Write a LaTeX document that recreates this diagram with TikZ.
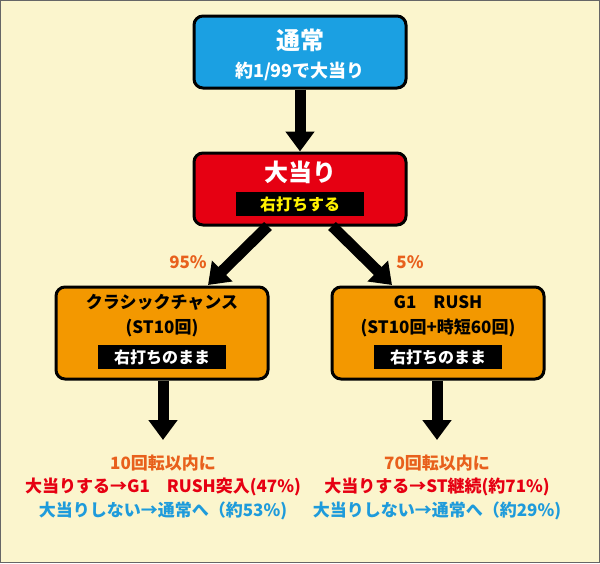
\documentclass[tikz,border=0pt]{standalone}
\usepackage{fontspec}
\setmainfont{Noto Sans CJK JP}
\usetikzlibrary{arrows.meta}
\definecolor{bg}{HTML}{FBF5CD}
\definecolor{cblue}{HTML}{1BA0E2}
\definecolor{cred}{HTML}{E60012}
\definecolor{corange}{HTML}{F39800}
\definecolor{tor}{HTML}{E8601C}
\definecolor{tred}{HTML}{E60012}
\definecolor{tblue}{HTML}{1E9BDB}
\definecolor{tyel}{HTML}{FFF100}
\begin{document}
\begin{tikzpicture}[x=1pt,y=-1pt,font=\bfseries,
 box/.style={draw=black,line width=3pt,rounded corners=9pt,minimum width=212pt,inner sep=0pt},
 lab/.style={fill=black,inner sep=2pt,minimum width=128pt,minimum height=24pt,font=\bfseries\fontsize{16}{16}\selectfont},
 arr/.style={line width=11pt,-{Triangle[width=28pt,length=20pt]}},
 t/.style={font=\bfseries\fontsize{17}{18}\selectfont,inner sep=0pt}]
\fill[bg,draw=black!60,line width=1pt] (0.5,0.5) rectangle (599.5,562.5);
\useasboundingbox (0,0) rectangle (600,563);
\node[box,fill=cblue,minimum height=72pt] (top) at (300,52) {};
\node[text=white,font=\bfseries\fontsize{24}{24}\selectfont] (t1) at (300,40) {通常};
\node[text=white,font=\bfseries\fontsize{18}{18}\selectfont] (t2) at (300,71) {約1/99で大当り};
\node[box,fill=cred,minimum height=72pt] (hit) at (300,189) {};
\node[text=white,font=\bfseries\fontsize{24}{24}\selectfont] (h1) at (300,172) {大当り};
\node[lab,text=tyel] (h2) at (300,204) {右打ちする};
\node[box,fill=corange,minimum height=92pt] (L) at (162,333) {};
\node[t] (l1) at (162,302) {クラシックチャンス};
\node[t] (l2) at (162,328) {(ST10回)};
\node[lab,text=white] (l3) at (162,357) {右打ちのまま};
\node[box,fill=corange,minimum height=92pt] (R) at (438,333) {};
\node[t] (r1) at (438,302) {G1　RUSH};
\node[t] (r2) at (438,328) {(ST10回+時短60回)};
\node[lab,text=white] (r3) at (438,357) {右打ちのまま};
\draw[arr] (top.south) -- (hit.north);
\draw[arr] (268,226) -- (208,285);
\draw[arr] (332,226) -- (392,285);
\node[t,text=tor] (p1) at (188,262) {95\%};
\node[t,text=tor] (p2) at (410,262) {5\%};
\coordinate (la) at (163,440);
\coordinate (ra) at (437,440);
\draw[arr] (L.south -| la) -- (la);
\draw[arr] (R.south -| ra) -- (ra);
\node[t,text=tor] at (163,463) {10回転以内に};
\node[t,text=tred] at (163,487) {大当りする→G1　RUSH突入(47\%)};
\node[t,text=tblue] at (163,511) {大当りしない→通常へ（約53\%)};
\node[t,text=tor] at (437,463) {70回転以内に};
\node[t,text=tred] at (437,487) {大当りする→ST継続(約71\%)};
\node[t,text=tblue] at (437,511) {大当りしない→通常へ（約29\%)};
\end{tikzpicture}
\end{document}
